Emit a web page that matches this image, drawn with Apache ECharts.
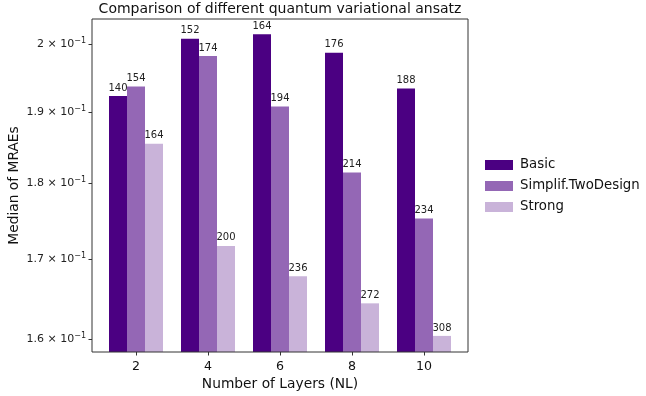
<!DOCTYPE html>
<html>
<head>
<meta charset="utf-8">
<script src="https://cdn.jsdelivr.net/npm/echarts@6/dist/echarts.min.js"></script>
<style>
  html, body { margin: 0; padding: 0; background: #fff; }
  #chart { width: 646px; height: 396px; }
</style>
</head>
<body>
<div id="chart"></div>
<script>
// Number of layers (x categories)
const layers = ['2', '4', '6', '8', '10'];

// Median MRAE per ansatz
const basic   = [0.1923, 0.2008, 0.2015, 0.1987, 0.1934];
const simplif = [0.1937, 0.1982, 0.1908, 0.1815, 0.1753];
const strong  = [0.1855, 0.1717, 0.1678, 0.1644, 0.1604];

// Parameter counts printed above the bars
const basicParams   = [140, 152, 164, 176, 188];
const simplifParams = [154, 174, 194, 214, 234];
const strongParams  = [164, 200, 236, 272, 308];

// Y tick positions
const yTicks = [0.16, 0.17, 0.18, 0.19, 0.2];

const Y_MIN = 0.15846;
const Y_MAX = 0.20384;

const FONT = '"DejaVu Sans", sans-serif';
const BAR_FRACTION = 0.25;   // each bar's share of a category band
const N_GROUP = 3;

function sciLabel(v) {
  const m = Math.round(v * 100) / 10;
  const mant = Number.isInteger(m) ? String(m) : m.toFixed(1);
  return '{m|' + mant + ' × 10}{s|−1}';
}

// Bars on a log axis grow from the bottom of the plot up to the value.
function barSeries(name, values, params, color, slot) {
  return {
    name: name,
    type: 'custom',
    xAxisIndex: 0,
    yAxisIndex: 0,
    itemStyle: { color: color },
    encode: { x: 0, y: 1 },
    data: values.map((v, i) => [i, v, params[i]]),
    renderItem: function (p, api) {
      const cat = api.value(0);
      const val = api.value(1);
      const band = api.size([1, 0.18], [cat, 0.18])[0];
      const w = band * BAR_FRACTION;
      const top = api.coord([cat, val]);
      const base = api.coord([cat, Y_MIN]);
      const cx = top[0] + (slot - (N_GROUP - 1) / 2) * w;
      return {
        type: 'group',
        children: [
          {
            type: 'rect',
            shape: { x: cx - w / 2, y: top[1], width: w, height: base[1] - top[1] },
            style: { fill: color }
          },
          {
            type: 'text',
            x: cx,
            y: top[1] - 3,
            style: {
              text: String(api.value(2)),
              fontFamily: FONT,
              fontSize: 10,
              fill: '#222',
              align: 'center',
              verticalAlign: 'bottom'
            }
          }
        ]
      };
    }
  };
}

const chart = echarts.init(document.getElementById('chart'), null, { renderer: 'canvas' });

chart.setOption({
  animation: false,
  backgroundColor: '#fff',
  title: {
    text: 'Comparison of different quantum variational ansatz',
    left: 280,
    top: 2,
    padding: 0,
    textAlign: 'center',
    textStyle: { fontFamily: FONT, fontSize: 14, fontWeight: 'normal', color: '#111' }
  },
  legend: {
    orient: 'vertical',
    left: 480,
    top: 153,
    itemWidth: 28,
    itemHeight: 10,
    itemGap: 7,
    icon: 'rect',
    data: ['Basic', 'Simplif.TwoDesign', 'Strong'],
    textStyle: { fontFamily: FONT, fontSize: 13.3, lineHeight: 14, color: '#111', padding: [0, 0, 0, 2] }
  },
  grid: [
    { left: 100, right: 186, top: 19, bottom: 44, outerBoundsMode: 'none', containLabel: false },
    { left: 92, right: 178, top: 19, bottom: 44, outerBoundsMode: 'none', containLabel: false,
      show: true, borderColor: '#333', borderWidth: 1, backgroundColor: 'transparent', z: 5 }
  ],
  xAxis: [
    {
      type: 'category',
      gridIndex: 0,
      data: layers,
      name: 'Number of Layers (NL)',
      nameLocation: 'middle',
      nameGap: 25,
      nameMoveOverlap: false,
      nameTextStyle: { fontFamily: FONT, fontSize: 13.8, color: '#111' },
      axisLine: { show: false },
      axisTick: { show: true, alignWithLabel: true, length: 3.5, lineStyle: { color: '#333' } },
      axisLabel: { fontFamily: FONT, fontSize: 12.6, color: '#111', margin: 8 },
      splitLine: { show: false }
    },
    { type: 'value', gridIndex: 1, show: false }
  ],
  yAxis: [
    {
      type: 'log',
      gridIndex: 0,
      min: Y_MIN,
      max: Y_MAX,
      offset: 8,
      name: 'Median of MRAEs',
      nameLocation: 'middle',
      nameGap: 71,
      nameMoveOverlap: false,
      nameTextStyle: { fontFamily: FONT, fontSize: 13.8, color: '#111' },
      axisLine: { show: false },
      axisTick: { show: true, length: 3.5, lineStyle: { color: '#333' }, customValues: yTicks },
      axisLabel: {
        show: true,
        margin: 6,
        customValues: yTicks,
        formatter: sciLabel,
        rich: {
          m: { fontFamily: FONT, fontSize: 11, color: '#222' },
          s: { fontFamily: FONT, fontSize: 8, color: '#222', verticalAlign: 'bottom', padding: [0, 0, 7, 0] }
        }
      },
      splitLine: { show: false },
      minorTick: { show: false }
    },
    { type: 'value', gridIndex: 1, show: false }
  ],
  series: [
    barSeries('Basic', basic, basicParams, '#4b0082', 0),
    barSeries('Simplif.TwoDesign', simplif, simplifParams, '#9467b5', 1),
    barSeries('Strong', strong, strongParams, '#c9b3d9', 2)
  ]
});
</script>
</body>
</html>
